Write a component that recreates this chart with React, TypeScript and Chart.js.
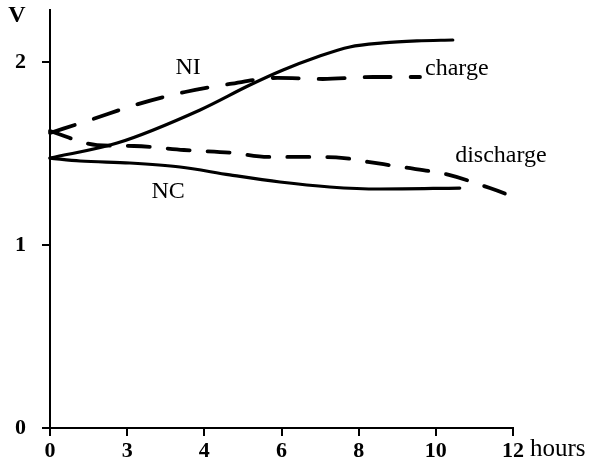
import React, { useEffect, useRef } from "react";
import { Chart, registerables } from "chart.js";

Chart.register(...registerables);

// hours (x) and volts (y)
const niChargeHours = [0, 1.74, 3.89, 5.18, 6.04, 6.92, 7.77, 8.63, 9.51, 10.44];
const niChargeVolts = [1.475, 1.557, 1.738, 1.874, 1.956, 2.027, 2.082, 2.104, 2.115, 2.12];

const ncDischargeHours = [0, 0.78, 2.07, 3.37, 4.66, 5.96, 7.25, 8.55, 10.62];
const ncDischargeVolts = [1.475, 1.459, 1.448, 1.426, 1.383, 1.344, 1.317, 1.306, 1.311];

const chargeDashHours = [0, 1.04, 2.28, 3.5, 4.66, 5.9, 7.07, 8.37, 9.59];
const chargeDashVolts = [1.612, 1.683, 1.77, 1.836, 1.88, 1.913, 1.907, 1.918, 1.918];

const dischargeDashHours = [0, 1.22, 2.18, 3.47, 4.72, 5.65, 6.63, 7.62, 8.24, 9.12, 10.34, 11.4, 12.18];
const dischargeDashVolts = [1.623, 1.546, 1.541, 1.519, 1.503, 1.481, 1.481, 1.475, 1.454, 1.426, 1.383, 1.311, 1.251];

const xTickValues = [0, 2, 4, 6, 8, 10, 12];
const xTickLabels = ["0", "3", "4", "6", "8", "10", "12"];
const yTickValues = [0, 1, 2];
const yTickLabels = ["0", "1", "2"];

const toPoints = (xs: number[], ys: number[]) => xs.map((x, i) => ({ x, y: ys[i] }));

const FONT = "'Liberation Serif', 'Times New Roman', serif";

const textPlugin = {
  id: "annotations",
  afterDraw(chart: any) {
    const { ctx, scales, chartArea } = chart;
    const xs = scales.x;
    const ys = scales.y;
    ctx.save();
    ctx.fillStyle = "#000";
    ctx.textBaseline = "middle";
    const put = (t: string, hx: number, vy: number, align: CanvasTextAlign) => {
      ctx.textAlign = align;
      ctx.fillText(t, xs.getPixelForValue(hx), ys.getPixelForValue(vy));
    };
    ctx.font = `24px ${FONT}`;
    put("NI", 3.58, 1.967, "center");
    put("NC", 3.06, 1.29, "center");
    put("charge", 9.72, 1.962, "left");
    put("discharge", 10.5, 1.486, "left");
    ctx.textAlign = "left";
    ctx.font = `25px ${FONT}`;
    ctx.fillText("hours", xs.getPixelForValue(12) + 17, chartArea.bottom + 21);
    ctx.font = `bold 24px ${FONT}`;
    ctx.textAlign = "center";
    ctx.fillText("V", chartArea.left - 33, chartArea.top + 6);
    ctx.restore();
  },
};

export default function App() {
  const ref = useRef<HTMLCanvasElement | null>(null);
  useEffect(() => {
    document.body.style.margin = "0";
    const canvas = ref.current!;
    const lineBase = {
      borderColor: "#000",
      backgroundColor: "#000",
      pointRadius: 0,
      fill: false,
      tension: 0.4,
      cubicInterpolationMode: "monotone" as const,
      clip: false as any,
      borderCapStyle: "round" as const,
    };
    const chart = new Chart(canvas, {
      type: "line",
      data: {
        datasets: [
          { ...lineBase, label: "NI charge", data: toPoints(niChargeHours, niChargeVolts), borderWidth: 3.2 },
          { ...lineBase, label: "NC discharge", data: toPoints(ncDischargeHours, ncDischargeVolts), borderWidth: 3.2 },
          { ...lineBase, label: "charge", data: toPoints(chargeDashHours, chargeDashVolts), borderWidth: 3.8, borderDash: [26, 20] },
          { ...lineBase, label: "discharge", data: toPoints(dischargeDashHours, dischargeDashVolts), borderWidth: 3.8, borderDash: [22, 18] },
        ],
      },
      options: {
        responsive: false,
        animation: false,
        layout: { padding: { top: 10, right: 85, left: 0, bottom: 0 } },
        plugins: { legend: { display: false }, tooltip: { enabled: false } },
        scales: {
          x: {
            type: "linear",
            min: 0,
            max: 12,
            afterFit: (s: any) => { s.height = 45; s.paddingLeft = 0; s.paddingRight = 0; },
            afterBuildTicks: (s: any) => { s.ticks = xTickValues.map((v) => ({ value: v })); },
            ticks: {
              color: "#000",
              font: { family: FONT, size: 22, weight: "bold" },
              padding: 2,
              maxRotation: 0,
              callback: (_v: any, i: number) => xTickLabels[i],
            },
            grid: { display: true, drawOnChartArea: false, color: "#000", tickLength: 8, lineWidth: 2 },
            border: { display: true, color: "#000", width: 2 },
          },
          y: {
            type: "linear",
            min: 0,
            max: 2.284,
            afterFit: (s: any) => { s.width = 50; s.paddingTop = 0; s.paddingBottom = 0; },
            afterBuildTicks: (s: any) => { s.ticks = yTickValues.map((v) => ({ value: v })); },
            ticks: {
              color: "#000",
              font: { family: FONT, size: 22, weight: "bold" },
              padding: 16,
              callback: (_v: any, i: number) => yTickLabels[i],
            },
            grid: { display: true, drawOnChartArea: false, color: "#000", tickLength: 8, lineWidth: 2 },
            border: { display: true, color: "#000", width: 2 },
          },
        },
      },
      plugins: [textPlugin],
    });
    return () => chart.destroy();
  }, []);
  return (
    <div style={{ width: 598, height: 473 }}>
      <canvas ref={ref} width={598} height={473} />
    </div>
  );
}
